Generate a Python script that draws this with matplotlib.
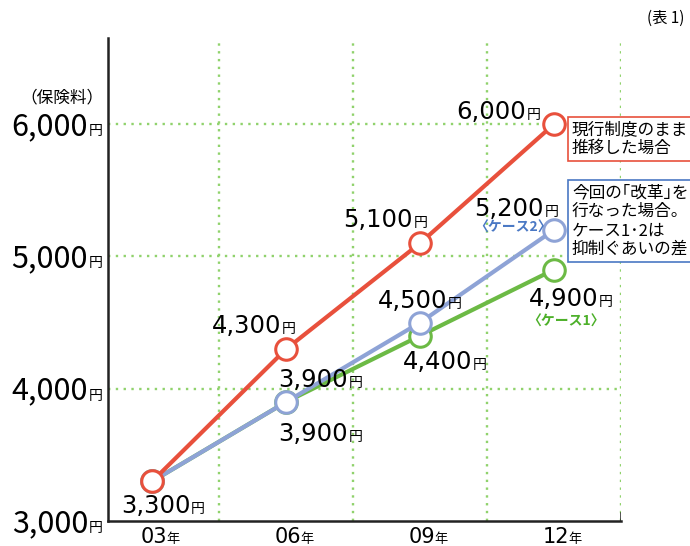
import matplotlib
matplotlib.use("Agg")
import matplotlib.pyplot as plt

plt.rcParams['font.family'] = ['Noto Sans CJK JP', 'DejaVu Sans']

years = ["03", "06", "09", "12"]
current = [3300, 4300, 5100, 6000]   # 現行制度のまま
case2 = [3300, 3900, 4500, 5200]     # ケース2
case1 = [3300, 3900, 4400, 4900]     # ケース1
yticks = [3000, 4000, 5000, 6000]

RED = '#e8503c'
BLUE = '#8ea3d6'
GREEN = '#6cba45'
GRID = '#90d26c'
NUMFONT = ['DejaVu Sans']

fig = plt.figure(figsize=(6.9, 5.46), dpi=100)
ax = fig.add_axes([108/690, 25/546, (621-108)/690, (521-38)/546])
x = list(range(len(years)))
ax.set_xlim(-0.33, 3.5)
ax.set_ylim(3000, 6651)

for s in ['top', 'right']:
    ax.spines[s].set_visible(False)
for s in ['left', 'bottom']:
    ax.spines[s].set_linewidth(1.8)
    ax.spines[s].set_color('#222222')
ax.set_xticks([])
ax.set_yticks([])

grid_kw = dict(color=GRID, lw=1.7, linestyle=(0, (1, 2.3)), zorder=1)
for yv in yticks[1:]:
    ax.axhline(yv, **grid_kw)
for xv in [0.5, 1.5, 2.5, 3.5]:
    ax.axvline(xv, **grid_kw)
ax.axvline(3.5, ymax=0.016, color='#222222', lw=1.8, zorder=3)

mk = dict(marker='o', markersize=15.5, markerfacecolor='white', markeredgewidth=2.2, lw=3.0)
ax.plot(x, case1, color=GREEN, zorder=4, **mk)
ax.plot(x, case2, color=BLUE, zorder=5, **mk)
ax.plot(x, current, color=RED, zorder=6, **mk)

NUM = 17.5
YEN = 10

def label(xi, val, dx, dy):
    txt = f"{val:,}"
    ax.annotate(txt, (xi, val), xytext=(dx, dy), textcoords='offset pixels',
                ha='right', va='baseline', fontsize=NUM, family=NUMFONT, zorder=8)
    ax.annotate("円", (xi, val), xytext=(dx + 1, dy), textcoords='offset pixels',
                ha='left', va='baseline', fontsize=YEN, zorder=8)

label(0, current[0], 38, -32)
label(1, current[1], -5, 16)
label(1, case2[1], 62, 15)
label(1, case1[1], 62, -39)
label(2, current[2], -7, 16)
label(2, case2[2], 27, 15)
label(2, case1[2], 52, -33)
label(3, current[3], -28, 5)
label(3, case2[3], -10, 14)
label(3, case1[3], 44, -36)

ax.annotate("〈ケース2〉", (3, case2[3]), xytext=(-41, 2), textcoords='offset pixels',
            ha='center', va='center', fontsize=10, color='#4a78c4', fontweight='bold', zorder=8)
ax.annotate("〈ケース1〉", (3, case1[3]), xytext=(12, -52), textcoords='offset pixels',
            ha='center', va='center', fontsize=10, color='#4db02a', fontweight='bold', zorder=8)

# y tick labels
for yv in yticks:
    ax.annotate(f"{yv:,}", (-0.33, yv), xytext=(-20, -11), textcoords='offset pixels',
                ha='right', va='baseline', fontsize=22, annotation_clip=False)
    ax.annotate("円", (-0.33, yv), xytext=(-19, -11), textcoords='offset pixels',
                ha='left', va='baseline', fontsize=10, annotation_clip=False)

# x tick labels
for xi, yr in zip(x, years):
    ax.annotate(yr, (xi, 3000), xytext=(15, -22), textcoords='offset pixels',
                ha='right', va='baseline', fontsize=15, family=NUMFONT, annotation_clip=False)
    ax.annotate("年", (xi, 3000), xytext=(14, -22), textcoords='offset pixels',
                ha='left', va='baseline', fontsize=9.5, annotation_clip=False)

fig.text(104/690, 1 - 98/546, "（保険料）", ha='right', va='center', fontsize=12)
fig.text(684/690, 1 - 18/546, "(表 1)", ha='right', va='center', fontsize=11)

fig.text(572/690, 1 - 139/546, "現行制度のまま\n推移した場合", ha='left', va='center',
         fontsize=12, linespacing=1.15, zorder=10,
         bbox=dict(boxstyle='square,pad=0.25', facecolor='white', edgecolor=RED, lw=1.2))
fig.text(572/690, 1 - 221/546, "今回の｢改革｣を\n行なった場合。\nケース1･2は\n抑制ぐあいの差",
         ha='left', va='center', fontsize=12, linespacing=1.15, zorder=10,
         bbox=dict(boxstyle='square,pad=0.25', facecolor='white', edgecolor='#4a78c4', lw=1.2))

fig.savefig("out.png", dpi=100)
